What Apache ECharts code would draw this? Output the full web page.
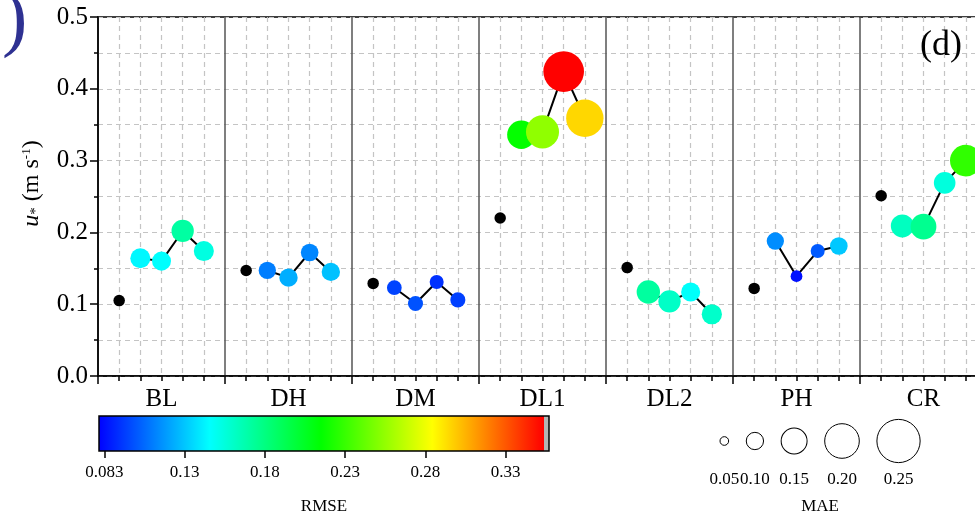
<!DOCTYPE html>
<html>
<head>
<meta charset="utf-8">
<script src="https://cdn.jsdelivr.net/npm/echarts@6/dist/echarts.min.js"></script>
<style>
  html, body { margin: 0; padding: 0; background: #fff; }
  #chart { width: 975px; height: 517px; }
</style>
</head>
<body>
<div id="chart"></div>
<script>
// sites on the x axis
const sites = ['BL', 'DH', 'DM', 'DL1', 'DL2', 'PH', 'CR'];
// observed u* (black dots)
const observed = [0.105, 0.147, 0.129, 0.220, 0.151, 0.122, 0.251];
// modelled u*, four runs per site
const modelled = [
  [0.164, 0.160, 0.202, 0.174],
  [0.147, 0.137, 0.172, 0.145],
  [0.123, 0.101, 0.131, 0.106],
  [0.336, 0.340, 0.424, 0.359],
  [0.117, 0.104, 0.117, 0.086],
  [0.188, 0.139, 0.174, 0.181],
  [0.209, 0.208, 0.269, 0.300]
];
// RMSE -> colour
const rmse = [
  [0.147, 0.149, 0.174, 0.157],
  [0.114, 0.127, 0.116, 0.132],
  [0.098, 0.102, 0.093, 0.097],
  [0.219, 0.257, 0.356, 0.298],
  [0.175, 0.164, 0.150, 0.163],
  [0.118, 0.084, 0.104, 0.134],
  [0.166, 0.179, 0.158, 0.231]
];
// MAE -> bubble size
const mae = [
  [0.116, 0.110, 0.129, 0.116],
  [0.100, 0.106, 0.102, 0.106],
  [0.085, 0.087, 0.081, 0.087],
  [0.164, 0.191, 0.235, 0.216],
  [0.135, 0.129, 0.110, 0.117],
  [0.100, 0.068, 0.081, 0.102],
  [0.133, 0.149, 0.125, 0.183]
];
const rmseTicks = [0.083, 0.133, 0.183, 0.233, 0.283, 0.333];
const maeLegend = [0.05, 0.10, 0.15, 0.20, 0.25];

const FONT = "'Liberation Serif', 'Times New Roman', serif";
const jet = ['#0000ff', '#00ffff', '#00ff00', '#ffff00', '#ff0000'];
const cbLo = 0.0797, cbRed = 0.3563, cbHi = 0.3601;
const slots = 6;           // slots per site block
const sizeK = 173;         // px diameter per unit MAE
const legendGap = 17.6;    // px between legend circles

// colour bar gradient, same colours as the visualMap
const redFrac = (cbRed - cbLo) / (cbHi - cbLo);
const stops = jet.map((c, i) => ({ offset: redFrac * i / (jet.length - 1), color: c }));
stops.push({ offset: redFrac, color: '#b4b4b4' }, { offset: 1, color: '#b4b4b4' });

// data built from the arrays
const dots = observed.map((v, g) => [g * slots + 1, v]);
const bubbles = [];
const lineSeries = [];
modelled.forEach((runs, g) => {
  const pts = runs.map((v, k) => [g * slots + 2 + k, v, rmse[g][k], mae[g][k]]);
  bubbles.push(...pts);
  lineSeries.push({
    type: 'line', xAxisIndex: 0, yAxisIndex: 0, data: pts.map(p => [p[0], p[1]]),
    showSymbol: false, lineStyle: { color: '#000', width: 2 }, z: 1, silent: true
  });
});
// MAE legend positions (px along the legend axis) from the circle sizes
const legendPos = [];
maeLegend.forEach((m, i) => {
  const r = m * sizeK / 2;
  if (i === 0) legendPos.push(r);
  else legendPos.push(legendPos[i - 1] + maeLegend[i - 1] * sizeK / 2 + legendGap + r);
});
const legendLen = legendPos[legendPos.length - 1] + maeLegend[maeLegend.length - 1] * sizeK / 2;

const dashed = { color: '#c4c4c4', width: 1.2, type: [5, 4] };

const chart = echarts.init(document.getElementById('chart'));
chart.setOption({
  animation: false,
  backgroundColor: '#fff',
  textStyle: { fontFamily: FONT },
  title: {
    text: '(d)', left: 920, top: 28, padding: 0,
    textStyle: { fontFamily: FONT, fontSize: 36, fontWeight: 'normal', color: '#000' }
  },
  graphic: [{
    type: 'text', left: 2, top: -16, silent: true,
    style: { text: ')', font: '76px ' + FONT, fill: '#2e3192' }
  }],
  grid: [
    {
      left: 98, top: 17, width: 889, bottom: 141, outerBoundsMode: 'none',
      show: true, borderColor: '#000', borderWidth: 1.5, backgroundColor: 'transparent'
    },
    {
      left: 99, top: 416, width: 450, height: 35, outerBoundsMode: 'none', show: true, borderColor: '#000', borderWidth: 1.5,
      backgroundColor: { type: 'linear', x: 0, y: 0, x2: 1, y2: 0, colorStops: stops }
    },
    { left: 720, top: 421, width: legendLen, height: 40, outerBoundsMode: 'none', show: false }
  ],
  xAxis: [
    {
      type: 'value', gridIndex: 0, min: 0, max: sites.length * slots, interval: slots,
      axisLine: { lineStyle: { color: '#000', width: 1.5 } },
      axisTick: { length: 8, lineStyle: { color: '#000', width: 1.5 } },
      minorTick: { show: true, splitNumber: slots, length: 5, lineStyle: { color: '#000', width: 1.5 } },
      axisLabel: { show: false },
      splitLine: { show: true, lineStyle: { color: '#555', width: 1.5 } },
      minorSplitLine: { show: true, lineStyle: dashed }
    },
    {
      type: 'category', gridIndex: 0, data: sites, position: 'bottom',
      axisLine: { show: false }, axisTick: { show: false }, splitLine: { show: false },
      axisLabel: { margin: 11, fontSize: 25, color: '#000', fontFamily: FONT }
    },
    {
      type: 'value', gridIndex: 1, min: cbLo, max: cbHi,
      axisLine: { show: false },
      axisTick: { show: true, length: 7, customValues: rmseTicks, lineStyle: { color: '#000', width: 1.5 } },
      axisLabel: {
        customValues: rmseTicks, margin: 13, fontSize: 17, color: '#000', fontFamily: FONT,
        formatter: v => (Math.abs(v - rmseTicks[0]) < 1e-6 ? v.toFixed(3) : v.toFixed(2))
      },
      splitLine: { show: false },
      name: 'RMSE', nameLocation: 'middle', nameGap: 47,
      nameTextStyle: { fontSize: 17, color: '#000', fontFamily: FONT }
    },
    {
      type: 'value', gridIndex: 2, min: 0, max: legendLen, show: true,
      axisLine: { show: false }, axisTick: { show: false }, axisLabel: { show: false }, splitLine: { show: false },
      name: 'MAE', nameLocation: 'middle', nameGap: 37,
      nameTextStyle: { fontSize: 17, color: '#000', fontFamily: FONT }
    }
  ],
  yAxis: [
    {
      type: 'value', gridIndex: 0, min: 0, max: 0.5, interval: 0.1,
      axisLine: { show: true, lineStyle: { color: '#000', width: 1.5 } },
      axisTick: { show: true, length: 8, lineStyle: { color: '#000', width: 1.5 } },
      minorTick: { show: true, splitNumber: 2, length: 4, lineStyle: { color: '#000', width: 1.5 } },
      axisLabel: { margin: 10, fontSize: 25, color: '#000', fontFamily: FONT, formatter: v => v.toFixed(1) },
      splitLine: { show: true, lineStyle: dashed },
      minorSplitLine: { show: true, lineStyle: dashed },
      name: '{u|u}{st|*} (m s{sup|-1})',
      nameLocation: 'middle', nameRotate: 90, nameGap: 54,
      nameTextStyle: {
        fontSize: 24, color: '#000', fontFamily: FONT, padding: [0, 0, 0, 26],
        rich: {
          u: { fontSize: 24, fontStyle: 'italic', fontFamily: FONT, color: '#000' },
          st: { fontSize: 15, fontFamily: FONT, color: '#000', verticalAlign: 'bottom', padding: [8, 0, 0, 0] },
          sup: { fontSize: 13, fontFamily: FONT, color: '#000', verticalAlign: 'top' }
        }
      }
    },
    { type: 'value', gridIndex: 1, min: 0, max: 1, show: false },
    { type: 'value', gridIndex: 2, min: -1, max: 1, show: false }
  ],
  visualMap: [{
    type: 'continuous', show: false, dimension: 2, seriesIndex: lineSeries.length + 1,
    min: cbLo, max: cbRed, inRange: { color: jet }, outOfRange: { color: '#b4b4b4' }
  }],
  series: [
    ...lineSeries,
    {
      type: 'scatter', xAxisIndex: 0, yAxisIndex: 0, data: dots, symbolSize: 11.5,
      itemStyle: { color: '#000', opacity: 1 }, z: 3, silent: true
    },
    {
      type: 'scatter', xAxisIndex: 0, yAxisIndex: 0, data: bubbles,
      symbolSize: d => d[3] * sizeK, itemStyle: { opacity: 1 }, z: 4, silent: true
    },
    {
      type: 'scatter', xAxisIndex: 3, yAxisIndex: 2,
      data: maeLegend.map((m, i) => [legendPos[i], 0, m]),
      symbolSize: d => d[2] * sizeK,
      itemStyle: { color: '#fff', borderColor: '#000', borderWidth: 1, opacity: 1 },
      label: {
        show: true, position: 'inside', offset: [0, 39], fontSize: 17, color: '#000', fontFamily: FONT,
        formatter: p => p.value[2].toFixed(2)
      },
      silent: true
    }
  ]
});
</script>
</body>
</html>
